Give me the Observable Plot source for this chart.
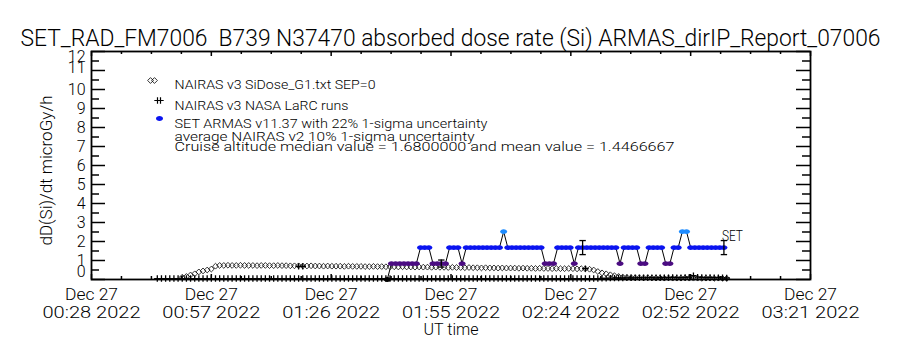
<!DOCTYPE html>
<html>
<head>
<meta charset="utf-8">
<script src="https://cdn.jsdelivr.net/npm/d3@7"></script>
<script src="https://cdn.jsdelivr.net/npm/@observablehq/plot@0.6"></script>
<style>
  body { margin: 0; background: #fff; }
  #chart { width: 900px; height: 350px; }
  #chart svg text { white-space: pre; }
</style>
</head>
<body>
<div id="chart"></div>
<script>
// ---------------- data ----------------
const titleText = "SET_RAD_FM7006  B739 N37470 absorbed dose rate (Si) ARMAS_dirIP_Report_07006";
const yLabelText = "dD(Si)/dt microGy/h";
const xLabelText = "UT time";
const legendLines = [
  "NAIRAS v3 SiDose_G1.txt SEP=0",
  "NAIRAS v3 NASA LaRC runs",
  "SET ARMAS v11.37 with 22% 1-sigma uncertainty",
  "average NAIRAS v2 10% 1-sigma uncertainty",
  "Cruise altitude median value = 1.6800000 and mean value = 1.4466667"
];

const xDomain = ["2022-12-27T00:28:10Z", "2022-12-27T03:21:10Z"];
const xTickTimes = ["2022-12-27T00:28:10Z", "2022-12-27T00:57:00Z", "2022-12-27T01:25:50Z",
  "2022-12-27T01:54:40Z", "2022-12-27T02:23:30Z", "2022-12-27T02:52:20Z", "2022-12-27T03:21:10Z"];
const xTickDateLabels = ["Dec 27", "Dec 27", "Dec 27", "Dec 27", "Dec 27", "Dec 27", "Dec 27"];
const xTickTimeLabels = ["00:28 2022", "00:57 2022", "01:26 2022", "01:55 2022", "02:24 2022", "02:52 2022", "03:21 2022"];
const yTicks = [0, 1, 2, 3, 4, 5, 6, 7, 8, 9, 10, 11, 12];
const yTickLabels = ["0", "1", "2", "3", "4", "5", "6", "7", "8", "9", "10", "11", "12"];

// NAIRAS v3 SiDose_G1 (diamonds), 1-minute samples from 00:50 UT
const nairasStart = "2022-12-27T00:50:00Z";
const nairasDose = [
  0.12, 0.16, 0.24, 0.30, 0.40, 0.45, 0.50, 0.55, 0.70, 0.74,
  0.74, 0.75, 0.74, 0.74, 0.75, 0.74, 0.74, 0.74, 0.73, 0.74,
  0.74, 0.73, 0.73, 0.74, 0.73, 0.73, 0.72, 0.72, 0.72, 0.71,
  0.71, 0.72, 0.71, 0.71, 0.70, 0.71, 0.70, 0.70, 0.70, 0.69,
  0.70, 0.69, 0.69, 0.69, 0.68, 0.68, 0.69, 0.68, 0.68, 0.67,
  0.67, 0.67, 0.66, 0.67, 0.66, 0.66, 0.65, 0.66, 0.65, 0.65,
  0.64, 0.65, 0.64, 0.64, 0.63, 0.64, 0.63, 0.63, 0.62, 0.63,
  0.62, 0.62, 0.61, 0.62, 0.61, 0.61, 0.60, 0.61, 0.60, 0.60,
  0.60, 0.59, 0.60, 0.59, 0.59, 0.58, 0.59, 0.58, 0.58, 0.57,
  0.58, 0.57, 0.57, 0.58, 0.57, 0.56, 0.57, 0.56,
  0.54, 0.50, 0.42, 0.35, 0.30, 0.25, 0.20, 0.16, 0.13, 0.11, 0.10, 0.09,
  0.09, 0.08, 0.09, 0.08, 0.08, 0.08, 0.07, 0.08, 0.07, 0.07, 0.07,
  0.08, 0.07, 0.07, 0.07, 0.06, 0.07, 0.07, 0.06, 0.07, 0.06, 0.06
];

// NAIRAS v3 NASA LaRC runs (plus signs), 1-minute samples from 00:44 UT
const larcStart = "2022-12-27T00:44:00Z";
const larcDose = [
  0.05, 0.05, 0.05, 0.05, 0.05, 0.05, 0.05, 0.05, 0.05, 0.05,
  0.05, 0.05, 0.05, 0.05, 0.05, 0.05, 0.05, 0.05, 0.05, 0.05,
  0.05, 0.05, 0.05, 0.05, 0.05, 0.05, 0.05, 0.05, 0.05, 0.05,
  0.05, 0.05, 0.05, 0.05, 0.05, 0.05, 0.05, 0.05, 0.05, 0.05,
  0.05, 0.05, 0.05, 0.05, 0.05, 0.05, 0.05, 0.05, 0.05, 0.05,
  0.05, 0.05, 0.05, 0.05, 0.05, 0.05, 0.05, 0.05, 0.05, 0.05,
  0.05, 0.05, 0.05, 0.05, 0.05, 0.05, 0.05, 0.05, 0.05, 0.05,
  0.05, 0.05, 0.05, 0.05, 0.05, 0.05, 0.05, 0.05, 0.05, 0.05,
  0.05, 0.05, 0.05, 0.05, 0.05, 0.05, 0.05, 0.05, 0.05, 0.05,
  0.05, 0.05, 0.05, 0.05, 0.05, 0.05, 0.05, 0.05, 0.05, 0.05,
  0.05, 0.05, 0.05, 0.05, 0.05, 0.05, 0.05,
  0.06, 0.06, 0.07, 0.07, 0.08, 0.08, 0.09, 0.09, 0.09, 0.10,
  0.09, 0.10, 0.10, 0.09, 0.10, 0.10, 0.10, 0.11, 0.10, 0.10,
  0.11, 0.12, 0.20, 0.12, 0.11, 0.10, 0.11, 0.10, 0.10, 0.09, 0.08
];
const larcCruiseTimes = ["2022-12-27T01:18:00Z", "2022-12-27T01:19:00Z", "2022-12-27T02:27:00Z"];
const larcCruiseDose = [0.69, 0.69, 0.57];

// SET ARMAS v11.37, 1-minute samples from 01:39:20 UT
const setStart = "2022-12-27T01:39:20Z";
const setDose = [
  0.00,
  0.84, 0.84, 0.84, 0.84, 0.84, 0.84, 0.84,
  1.68, 1.68, 1.68,
  0.84, 0.84, 0.84, 0.84,
  1.68, 1.68, 1.68,
  0.84,
  1.68, 1.68, 1.68, 1.68, 1.68, 1.68, 1.68, 1.68, 1.68,
  2.52,
  1.68, 1.68, 1.68, 1.68, 1.68, 1.68, 1.68, 1.68, 1.68,
  0.84, 0.84, 0.84,
  1.68, 1.68, 1.68, 1.68,
  0.84,
  1.68, 1.68, 1.68, 1.68, 1.68, 1.68, 1.68, 1.68, 1.68, 1.68,
  0.84,
  1.68, 1.68, 1.68, 1.68,
  0.84, 0.84,
  1.68, 1.68, 1.68, 1.68,
  0.84, 0.84,
  1.68, 1.68,
  2.52, 2.52,
  1.68, 1.68, 1.68, 1.68, 1.68, 1.68, 1.68, 1.68, 1.68
];
const setErrorIndex = [13, 47, 81];
const setErrorFraction = 0.22;
const setLevels = [0, 0.84, 1.68, 2.52];
const setLevelColors = ["#000000", "#4b0c82", "#0a14f0", "#1e8cff"];

// ---------------- build tables ----------------
const MIN = 60000;
const toDate = s => new Date(s);
const nairas = nairasDose.map((v, i) => ({t: new Date(+toDate(nairasStart) + i * MIN), v}));
const larc = larcDose.map((v, i) => ({t: new Date(+toDate(larcStart) + i * MIN), v}))
  .concat(larcCruiseTimes.map((s, i) => ({t: toDate(s), v: larcCruiseDose[i]})));
const setData = setDose.map((v, i) => ({t: new Date(+toDate(setStart) + i * MIN), v}));
const setErr = setErrorIndex.map(i => ({
  t: setData[i].t, lo: setData[i].v * (1 - setErrorFraction), hi: setData[i].v * (1 + setErrorFraction)
}));
const xMajor = xTickTimes.map(toDate);
const xMinor = [];
for (let k = 0; k < xMajor.length - 1; k++) {
  const a = +xMajor[k], b = +xMajor[k + 1];
  for (let j = 1; j < 4; j++) xMinor.push(new Date(a + (b - a) * j / 4));
}
const yMinor = yTicks.slice(0, -1).map(d => d + 0.5);

// ---------------- layout / style ----------------
const W = 900, H = 350, ML = 91, MR = 90, MT = 51, MB = 71;
const FW = W - ML - MR, FH = H - MT - MB;
const FONT = "Roboto, 'DejaVu Sans', sans-serif";

// widths (px) of the vector-font texts in the reference
const fitWidths = new Map([
  [titleText, 860], [yLabelText, 150], [xLabelText, 55], ["SET", 21],
  [legendLines[0], 201], [legendLines[1], 174], [legendLines[2], 313],
  [legendLines[3], 300], [legendLines[4], 500], ["Dec 27", 53]
]);
xTickTimeLabels.forEach(s => fitWidths.set(s, 98));

const ellipse = {
  draw(ctx, size) {
    const r = Math.sqrt(size / Math.PI), a = r * 1.25, b = r * 0.85, k = 0.5523;
    ctx.moveTo(a, 0);
    ctx.bezierCurveTo(a, b * k, a * k, b, 0, b);
    ctx.bezierCurveTo(-a * k, b, -a, b * k, -a, 0);
    ctx.bezierCurveTo(-a, -b * k, -a * k, -b, 0, -b);
    ctx.bezierCurveTo(a * k, -b, a, -b * k, a, 0);
    ctx.closePath();
  }
};
const cap = {
  draw(ctx, size) {
    const w = Math.sqrt(size / Math.PI);
    ctx.moveTo(-w, 0); ctx.lineTo(w, 0);
  }
};

const yLabelNudge = {0: -8, 11: -3, 12: 5};
const yTickTextMarks = yTicks.map((d, i) => Plot.text([d], {
  y: v => v, text: () => yTickLabels[i], frameAnchor: "left", dx: -6, dy: yLabelNudge[d] || 0,
  textAnchor: "end", fontSize: 16
}));

const plot = Plot.plot({
  width: W, height: H,
  marginLeft: ML, marginRight: MR, marginTop: MT, marginBottom: MB,
  x: {type: "utc", domain: xDomain.map(toDate), axis: null},
  y: {domain: [0, 12], axis: null},
  color: {type: "ordinal", domain: setLevels, range: setLevelColors},
  style: {fontFamily: FONT, fontWeight: 300, background: "#fff", color: "#000", overflow: "visible"},
  marks: [
    // ticks (inward, IDL style box)
    Plot.tickY(yTicks, {y: d => d, insetRight: FW - 14, stroke: "#000", strokeWidth: 1.5}),
    Plot.tickY(yTicks, {y: d => d, insetLeft: FW - 14, stroke: "#000", strokeWidth: 1.5}),
    Plot.tickY(yMinor, {y: d => d, insetRight: FW - 8, stroke: "#000", strokeWidth: 1.5}),
    Plot.tickY(yMinor, {y: d => d, insetLeft: FW - 8, stroke: "#000", strokeWidth: 1.5}),
    Plot.tickX(xMajor, {x: d => d, insetTop: FH - 5, stroke: "#000", strokeWidth: 1.5}),
    Plot.tickX(xMajor, {x: d => d, insetBottom: FH - 5, stroke: "#000", strokeWidth: 1.5}),
    Plot.tickX(xMinor, {x: d => d, insetTop: FH - 3, stroke: "#000", strokeWidth: 1.5}),
    Plot.tickX(xMinor, {x: d => d, insetBottom: FH - 3, stroke: "#000", strokeWidth: 1.5}),
    Plot.frame({stroke: "#000", strokeWidth: 1.8}),

    // data
    Plot.dot(larc, {x: "t", y: "v", symbol: "plus", r: 2.2, stroke: "#000", strokeWidth: 1.3}),
    Plot.dot(nairas, {x: "t", y: "v", symbol: "diamond2", r: 2.6, stroke: "#000", strokeWidth: 0.8}),
    Plot.line(setData, {x: "t", y: "v", stroke: "#000", strokeWidth: 1}),
    Plot.dot(setData, {x: "t", y: "v", symbol: ellipse, r: 2.8, fill: "v", stroke: "none"}),
    Plot.ruleX(setErr, {x: "t", y1: "lo", y2: "hi", stroke: "#000", strokeWidth: 1.3}),
    Plot.dot(setErr, {x: "t", y: "lo", symbol: cap, r: 3.2, stroke: "#000", strokeWidth: 1.3}),
    Plot.dot(setErr, {x: "t", y: "hi", symbol: cap, r: 3.2, stroke: "#000", strokeWidth: 1.3}),
    Plot.text([setData[setData.length - 1]], {x: "t", y: "v", text: () => "SET", dy: -11, dx: -2,
      textAnchor: "start", fontSize: 14}),

    // legend
    Plot.dot([0], {frameAnchor: "top-left", dx: 59, dy: 29, symbol: "diamond2", r: 2.6, stroke: "#000", strokeWidth: 0.8}),
    Plot.dot([0], {frameAnchor: "top-left", dx: 63, dy: 29, symbol: "diamond2", r: 2.6, stroke: "#000", strokeWidth: 0.8}),
    Plot.dot([0], {frameAnchor: "top-left", dx: 66, dy: 49, symbol: "plus", r: 2.2, stroke: "#000", strokeWidth: 1.2}),
    Plot.dot([0], {frameAnchor: "top-left", dx: 69, dy: 49, symbol: "plus", r: 2.2, stroke: "#000", strokeWidth: 1.2}),
    Plot.dot([0], {frameAnchor: "top-left", dx: 68, dy: 67, symbol: ellipse, r: 2.8, fill: "#0a14f0"}),
    Plot.text([legendLines[0]], {frameAnchor: "top-left", dx: 83, dy: 28, textAnchor: "start", fontSize: 13}),
    Plot.text([legendLines[1]], {frameAnchor: "top-left", dx: 83, dy: 49, textAnchor: "start", fontSize: 13}),
    Plot.text([legendLines[2]], {frameAnchor: "top-left", dx: 83, dy: 67, textAnchor: "start", fontSize: 13}),
    Plot.text([legendLines[3]], {frameAnchor: "top-left", dx: 83, dy: 80, textAnchor: "start", fontSize: 13}),
    Plot.text([legendLines[4]], {frameAnchor: "top-left", dx: 83, dy: 90, textAnchor: "start", fontSize: 13}),

    // axis texts (start-anchored so a stretched width keeps its place)
    ...yTickTextMarks,
    Plot.text(xMajor, {x: d => d, text: (d, i) => xTickDateLabels[i], frameAnchor: "bottom",
      dx: -fitWidths.get("Dec 27") / 2, dy: 20, textAnchor: "start", fontSize: 16}),
    Plot.text(xMajor, {x: d => d, text: (d, i) => xTickTimeLabels[i], frameAnchor: "bottom",
      dx: -fitWidths.get(xTickTimeLabels[0]) / 2, dy: 38, textAnchor: "start", fontSize: 16}),
    Plot.text([xLabelText], {frameAnchor: "bottom", dx: -fitWidths.get(xLabelText) / 2, dy: 55,
      textAnchor: "start", fontSize: 16}),
    Plot.text([yLabelText], {frameAnchor: "left", dx: -45, dy: 80, rotate: -90, textAnchor: "start", fontSize: 16}),
    Plot.text([titleText], {frameAnchor: "top-left", dx: -71, dy: -22, textAnchor: "start", fontSize: 23})
  ]
});

document.getElementById("chart").appendChild(plot);

plot.querySelectorAll("text").forEach(el => {
  const w = fitWidths.get(el.textContent);
  if (w) { el.setAttribute("textLength", w); el.setAttribute("lengthAdjust", "spacingAndGlyphs"); }
});
</script>
</body>
</html>
